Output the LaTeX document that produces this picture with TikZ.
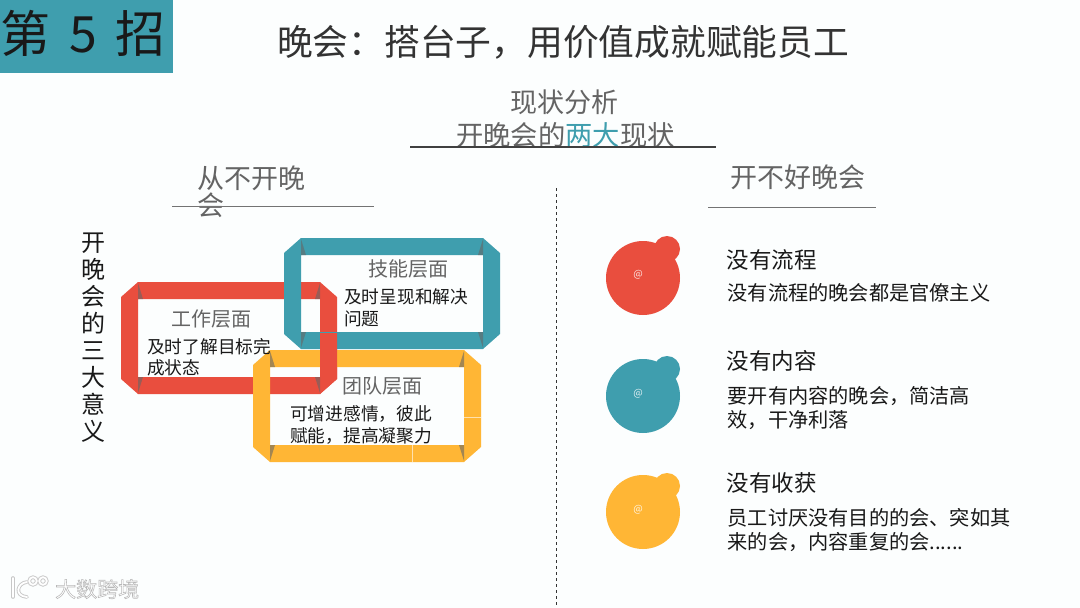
\documentclass[tikz,border=0pt]{standalone}
\usepackage{fontspec}
\setmainfont{Noto Sans CJK SC}
\usetikzlibrary{calc, positioning}

% Band with cut corners: colour, left, top, right, bottom.
\newcommand{\bandframe}[5]{
  \fill[#1,even odd rule]
    (#2+17,#3) -- (#4-17,#3) -- (#4,#3+15) -- (#4,#5-15) -- (#4-17,#5)
    -- (#2+17,#5) -- (#2,#5-15) -- (#2,#3+15) -- cycle
    (#2+17,#3+17) rectangle (#4-17,#5-17);
  \fill[cornershade] (#2+17,#3+17) -- (#2+17,#3+1) -- (#2+22,#3+17) -- cycle;
  \fill[cornershade] (#4-17,#3+17) -- (#4-17,#3+1) -- (#4-22,#3+17) -- cycle;
  \fill[cornershade] (#2+17,#5-17) -- (#2+17,#5-1) -- (#2+22,#5-17) -- cycle;
  \fill[cornershade] (#4-17,#5-17) -- (#4-17,#5-1) -- (#4-22,#5-17) -- cycle;
}
% Round badge with its small bump: colour, y of the big circle, y of the bump.
\newcommand{\badge}[3]{
  \fill[#1] (643,#2) circle[radius=37];
  \fill[#1] (667,#3) circle[radius=13];
}

\tikzset{
  cornershade/.style={black!60,opacity=0.6},
  lefttext/.style={anchor=west,inner sep=0pt,align=left},
  headtext/.style={lefttext,text=inkdark,font=\fontsize{22.5}{27}\selectfont},
  bodytext/.style={lefttext,text=inkdark,font=\fontsize{20.2}{23.5}\selectfont},
  frametitle/.style={lefttext,text=inkgrey,font=\fontsize{20}{24}\selectfont},
  frametext/.style={lefttext,text=inkdark,font=\fontsize{17.7}{21.5}\selectfont},
  sectiontext/.style={lefttext,text=inkgrey,font=\fontsize{27}{27}\selectfont},
  atmark/.style={inner sep=0pt,font=\fontsize{10}{10}\selectfont},
}

\begin{document}
\begin{tikzpicture}[x=1pt,y=-1pt]
\definecolor{paper}{RGB}{252,254,254}
\definecolor{bandteal}{RGB}{63,158,174}
\definecolor{bandred}{RGB}{233,78,62}
\definecolor{bandyellow}{RGB}{255,182,53}
\definecolor{inkdark}{RGB}{25,25,25}
\definecolor{inkgrey}{RGB}{100,100,100}

\useasboundingbox (0,0) rectangle (1080,608);
\fill[paper] (0,0) rectangle (1080,608);

% Header block and title.
\fill[bandteal] (0,0) rectangle (173,73);
\node[lefttext,text=inkdark,font=\fontsize{50}{50}\selectfont] (badgetext) at (0,33)
  {第\hspace{19pt}5\hspace{19pt}招};
\node[lefttext,text=black!80,font=\fontsize{35.75}{36}\selectfont] (slidetitle) at (277,42)
  {晚会：搭台子，用价值成就赋能员工};

% Centre heading.
\node[sectiontext] (headtop) at (510,102) {现状分析};
\node[sectiontext,font=\fontsize{27.3}{27}\selectfont] (headmain) at (456,135)
  {开晚会的\textcolor{bandteal}{两大}现状};
\draw[black!75,line width=1.2pt] (410,147) -- (716,147);

% Column headings.
\node[sectiontext,text width=108,font=\fontsize{27}{27}\selectfont] (leftcol) at (197,191.5) {从不开晚\\会};
\draw[black!55,line width=1pt] (172,206.5) -- (374,206.5);
\node[sectiontext] (rightcol) at (730,177.5) {开不好晚会};
\draw[black!55,line width=1pt] (708,207) -- (876,207);
\draw[black!80,dashed,line width=0.9pt] (556.5,188) -- (556.5,608);

% Vertical label.
\node[text=inkdark,inner sep=0pt,align=center,font=\fontsize{24}{27}\selectfont] (sidelabel) at (93,337.5)
  {开\\晚\\会\\的\\三\\大\\意\\义};

% Linked frames: red first, teal and yellow on top of it.
\bandframe{bandred}{121}{282}{337}{394}
\bandframe{bandteal}{284}{238}{500}{349}
\bandframe{bandyellow}{253}{350}{481}{462}
% The red band runs back over the other two on its right side.
\begin{scope}
  \clip (320,333) rectangle (338,396);
  \bandframe{bandred}{121}{282}{337}{394}
\end{scope}
\draw[white,opacity=0.6,line width=0.4pt] (412.5,445) -- (412.5,462);
\draw[white,opacity=0.6,line width=0.4pt] (464,417) -- (481,417);

\node[frametitle] (worktitle) at (171,319) {工作层面};
\node[frametext] (worktext) at (147,357.5) {及时了解目标完\\成状态};
\node[frametitle] (skilltitle) at (368,269) {技能层面};
\node[frametext] (skilltext) at (344,308) {及时呈现和解决\\问题};
\node[frametitle] (teamtitle) at (342,386) {团队层面};
\node[frametext] (teamtext) at (290,425) {可增进感情，彼此\\赋能，提高凝聚力};

% Right column: badges with their texts.
\badge{bandred}{278}{249}
\badge{bandteal}{396}{369}
\badge{bandyellow}{512}{486}
\node[atmark,text=white!85!bandred] (atred) at (638,275) {@};
\node[atmark,text=white!85!bandteal] (atteal) at (638,394) {@};
\node[atmark,text=white!85!bandyellow] (atyellow) at (638,510) {@};

\node[headtext] (flowhead) at (726.5,260) {没有流程};
\node[bodytext] (flowtext) at (727.5,293) {没有流程的晚会都是官僚主义};
\node[headtext] (contenthead) at (726.5,361) {没有内容};
\node[bodytext] (contenttext) at (727.5,408) {要开有内容的晚会，简洁高\\效，干净利落};
\node[headtext] (gainhead) at (726.5,483) {没有收获};
\node[bodytext] (gaintext) at (727.5,530) {员工讨厌没有目的的会、突如其\\来的会，内容重复的会......};

% Watermark, bottom left: white letters with a grey rim.
\node[lefttext,text=white,font=\fontsize{21}{21}\selectfont] (marktext) at (55,589)
  {\special{pdf:code q 2 Tr 0.72 G 0.55 w}大数跨境\special{pdf:code Q}};
\foreach \inkcol/\inkwd in {black!22/3.6pt,white/1.8pt} {
  \draw[\inkcol,line width=\inkwd,line cap=round] (13,578) -- (13,597);
  \draw[\inkcol,line width=\inkwd,line cap=round] (27,582) .. controls (17,583) and (14,596) .. (27,597);
  \draw[\inkcol,line width=\inkwd] (33,581) circle[radius=3.8];
  \draw[\inkcol,line width=\inkwd] (43,581) circle[radius=3.8];
}
\end{tikzpicture}
\end{document}
